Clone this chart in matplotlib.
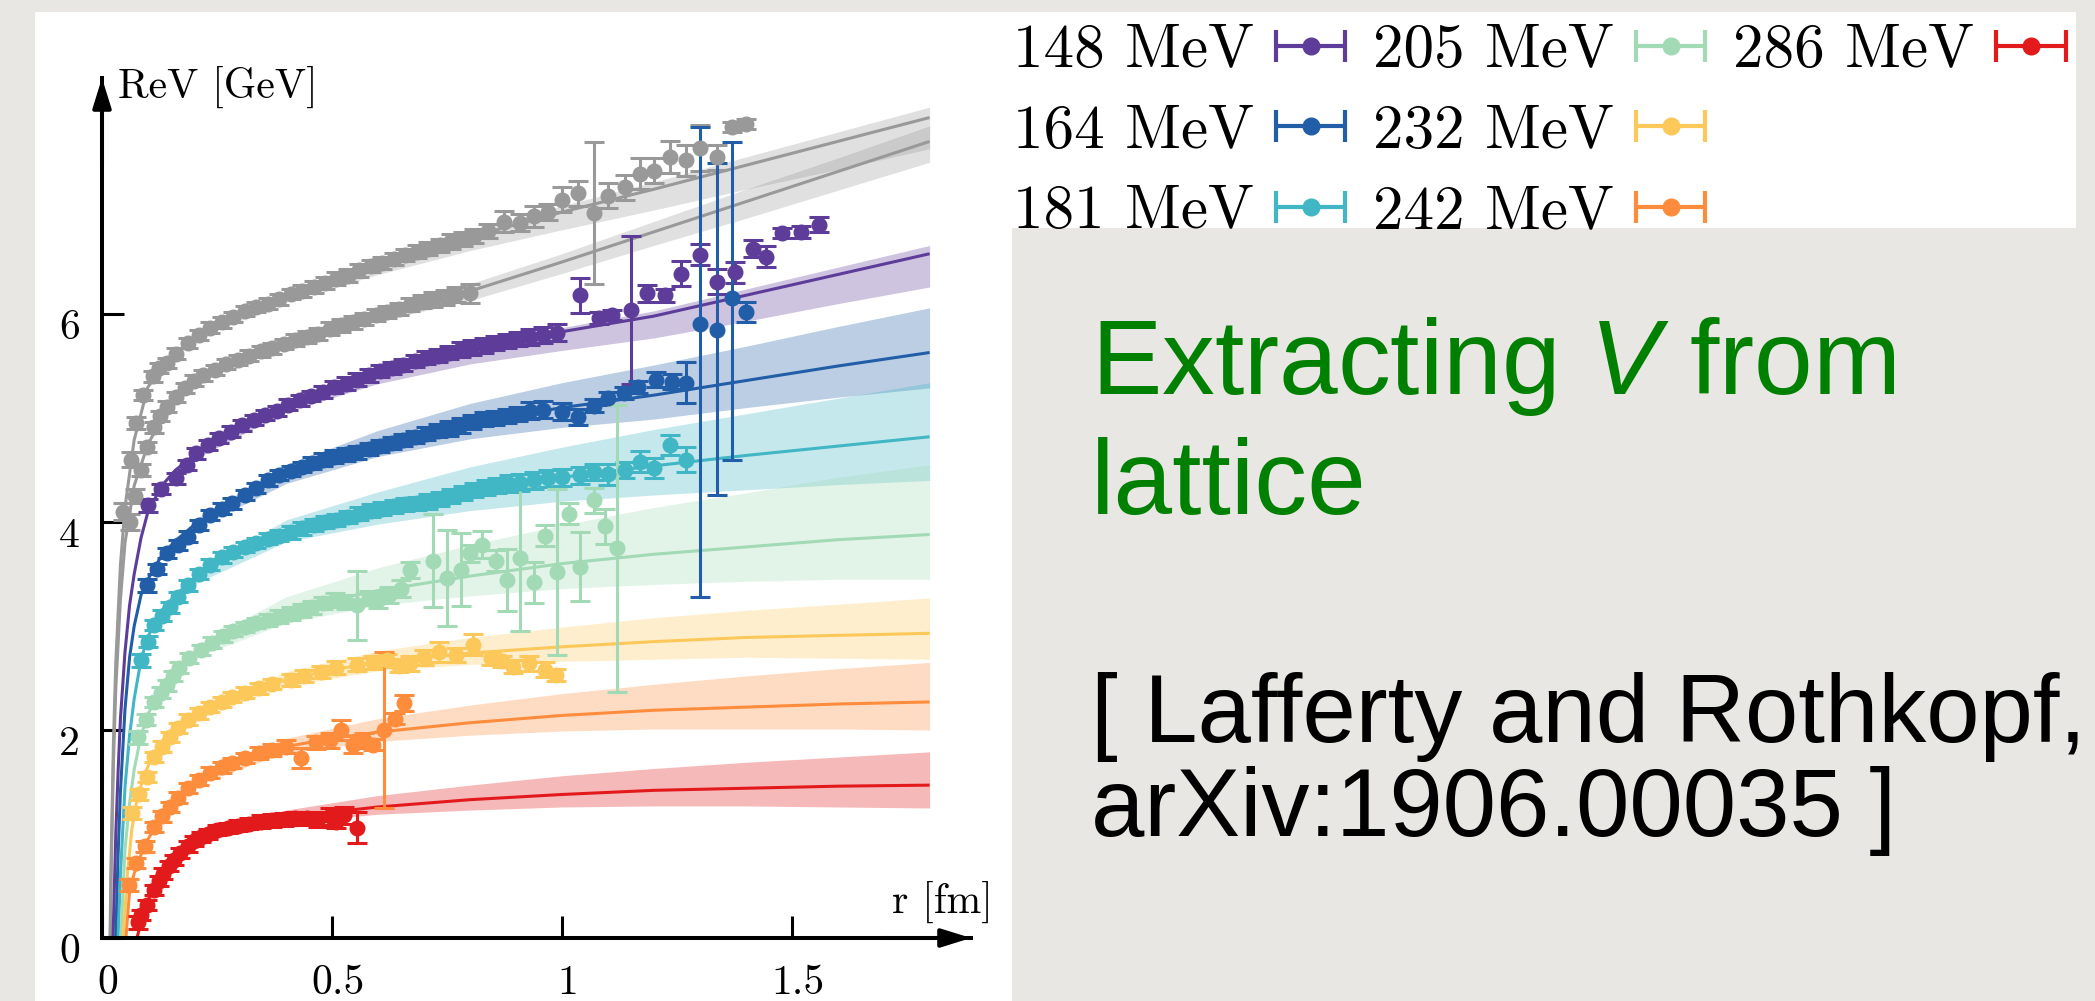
import numpy as np
import matplotlib
matplotlib.use("Agg")
import matplotlib.pyplot as plt
import matplotlib.transforms as mtransforms
from matplotlib.patches import Rectangle
from matplotlib.container import ErrorbarContainer
from matplotlib.legend_handler import HandlerErrorbar
from matplotlib.lines import Line2D
from matplotlib import font_manager as fm

# ---------------------------------------------------------------- data
LABELS = ["148 MeV", "164 MeV", "181 MeV", "205 MeV", "232 MeV", "242 MeV", "286 MeV"]
XTICKS = [0, 0.5, 1, 1.5]
XTICKLABELS = ["0", "0.5", "1", "1.5"]
YTICKS = [0, 2, 4, 6]
YTICKLABELS = ["0", "2", "4", "6"]

BAND_R = [0.2, 0.4, 0.6, 0.8, 1.0, 1.2, 1.4, 1.6, 1.8]

# T = 0 reference data (upper grey)
G1_R = [0.046, 0.062, 0.075, 0.089, 0.11, 0.125, 0.142, 0.16, 0.186, 0.21,
        0.235, 0.26, 0.285, 0.31, 0.335, 0.36, 0.385, 0.41, 0.435, 0.46,
        0.485, 0.51, 0.535, 0.56, 0.585, 0.61, 0.635, 0.66, 0.685, 0.71,
        0.735, 0.76, 0.785, 0.81, 0.84, 0.875, 0.91, 0.94, 0.97, 1.0,
        1.035, 1.07, 1.10, 1.137, 1.17, 1.2, 1.235, 1.27, 1.30, 1.337,
        1.37, 1.40]
G1_V = [4.1, 4.6, 4.95, 5.22, 5.4, 5.48, 5.53, 5.62, 5.72, 5.8,
        5.87, 5.92, 5.97, 6.03, 6.07, 6.1, 6.14, 6.19, 6.22, 6.26,
        6.3, 6.34, 6.37, 6.42, 6.46, 6.49, 6.53, 6.57, 6.6, 6.63,
        6.66, 6.7, 6.72, 6.75, 6.8, 6.89, 6.88, 6.94, 6.98, 7.1,
        7.16, 6.97, 7.14, 7.22, 7.35, 7.38, 7.51, 7.48, 7.6, 7.51,
        7.8, 7.83]
G1_E = [0.08, 0.07, 0.06, 0.05, 0.05, 0.05, 0.05, 0.05, 0.05, 0.05,
        0.05, 0.05, 0.05, 0.05, 0.05, 0.05, 0.05, 0.05, 0.06, 0.06,
        0.06, 0.06, 0.06, 0.06, 0.06, 0.06, 0.06, 0.06, 0.06, 0.06,
        0.06, 0.07, 0.07, 0.07, 0.07, 0.10, 0.08, 0.10, 0.08, 0.12,
        0.12, 0.68, 0.12, 0.12, 0.15, 0.12, 0.15, 0.15, 0.22, 0.12,
        0.05, 0.05]
G1_FIT_R = [0.0175, 0.02, 0.025, 0.03, 0.04, 0.05, 0.07, 0.1, 0.15, 0.2,
            0.3, 0.4, 0.5, 0.6, 0.8, 1.0, 1.2, 1.4, 1.6, 1.8]
G1_FIT_V = [0, 0.8, 1.9, 2.65, 3.58, 4.14, 4.79, 5.3, 5.58, 5.78,
            6.02, 6.19, 6.34, 6.48, 6.74, 6.98, 7.2, 7.43, 7.66, 7.89]
G1_LO = [5.75, 6.12, 6.38, 6.61, 6.81, 7.0, 7.2, 7.39, 7.59]
G1_HI = [5.79, 6.21, 6.51, 6.78, 7.04, 7.27, 7.51, 7.75, 7.99]

# T = 0 reference data (lower grey)
G2_R = [0.06, 0.072, 0.084, 0.098, 0.113, 0.127, 0.142, 0.16, 0.18, 0.2,
        0.22, 0.245, 0.27, 0.295, 0.32, 0.345, 0.37, 0.395, 0.42, 0.445,
        0.47, 0.495, 0.52, 0.545, 0.57, 0.595, 0.62, 0.645, 0.67, 0.695,
        0.72, 0.745, 0.77, 0.80]
G2_V = [4.0, 4.25, 4.5, 4.72, 4.91, 5.02, 5.11, 5.2, 5.29, 5.36,
        5.41, 5.46, 5.52, 5.56, 5.6, 5.64, 5.67, 5.71, 5.75, 5.78,
        5.81, 5.86, 5.89, 5.92, 5.95, 5.99, 6.02, 6.05, 6.09, 6.12,
        6.14, 6.16, 6.19, 6.2]
G2_E = [0.08, 0.07, 0.06, 0.05, 0.05, 0.05, 0.05, 0.05, 0.05, 0.05,
        0.05, 0.05, 0.05, 0.05, 0.05, 0.05, 0.05, 0.05, 0.06, 0.06,
        0.06, 0.06, 0.06, 0.06, 0.06, 0.06, 0.06, 0.06, 0.06, 0.06,
        0.07, 0.07, 0.07, 0.09]
G2_FIT_R = [0.018, 0.02, 0.025, 0.03, 0.04, 0.05, 0.07, 0.1, 0.15, 0.2,
            0.3, 0.4, 0.5, 0.6, 0.8, 1.0, 1.2, 1.4, 1.6, 1.8]
G2_FIT_V = [0, 0.65, 1.7, 2.4, 3.25, 3.8, 4.35, 4.75, 5.15, 5.35,
            5.6, 5.75, 5.88, 6.0, 6.22, 6.5, 6.79, 7.08, 7.37, 7.66]
G2_LO = [5.33, 5.71, 5.93, 6.13, 6.39, 6.66, 6.92, 7.19, 7.46]
G2_HI = [5.37, 5.78, 6.05, 6.29, 6.58, 6.89, 7.2, 7.5, 7.81]

# 148 MeV
PU_R = [0.1, 0.128, 0.16, 0.185, 0.205, 0.23, 0.255, 0.28, 0.305, 0.33,
        0.355, 0.38, 0.405, 0.43, 0.455, 0.48, 0.505, 0.53, 0.555, 0.58,
        0.605, 0.63, 0.655, 0.68, 0.705, 0.73, 0.755, 0.78, 0.805, 0.83,
        0.855, 0.88, 0.905, 0.93, 0.96, 0.99, 1.04, 1.08, 1.11, 1.15,
        1.185, 1.225, 1.26, 1.30, 1.337, 1.376, 1.415, 1.445, 1.48, 1.52,
        1.56]
PU_V = [4.16, 4.32, 4.42, 4.55, 4.66, 4.74, 4.81, 4.87, 4.93, 4.98,
        5.03, 5.07, 5.13, 5.17, 5.21, 5.25, 5.3, 5.33, 5.37, 5.41,
        5.45, 5.48, 5.51, 5.55, 5.58, 5.6, 5.63, 5.66, 5.68, 5.7,
        5.72, 5.74, 5.76, 5.78, 5.8, 5.82, 6.18, 5.96, 5.99, 6.04,
        6.2, 6.18, 6.39, 6.57, 6.31, 6.4, 6.63, 6.55, 6.78, 6.79,
        6.86]
PU_E = [0.06, 0.05, 0.05, 0.05, 0.05, 0.05, 0.05, 0.05, 0.05, 0.05,
        0.05, 0.05, 0.05, 0.05, 0.05, 0.06, 0.06, 0.06, 0.06, 0.06,
        0.06, 0.06, 0.06, 0.06, 0.06, 0.06, 0.06, 0.07, 0.07, 0.07,
        0.07, 0.07, 0.07, 0.08, 0.08, 0.08, 0.17, 0.06, 0.05, 0.71,
        0.08, 0.06, 0.12, 0.10, 0.12, 0.10, 0.08, 0.10, 0.05, 0.06,
        0.07]
PU_FIT_R = [0.024, 0.03, 0.035, 0.04, 0.05, 0.06, 0.07, 0.085, 0.1, 0.13, 0.16,
            0.2, 0.3, 0.4, 0.5, 0.6, 0.8, 1.0, 1.2, 1.4, 1.6, 1.8]
PU_FIT_V = [0, 1.0, 1.6, 2.1, 2.75, 3.2, 3.5, 3.85, 4.1, 4.35, 4.5,
            4.64, 4.93, 5.13, 5.3, 5.44, 5.66, 5.83, 5.98, 6.18, 6.38, 6.58]
PU_LO = [4.6, 5.06, 5.33, 5.52, 5.65, 5.77, 5.93, 6.1, 6.26]
PU_HI = [4.65, 5.15, 5.47, 5.70, 5.87, 6.03, 6.24, 6.45, 6.66]

# 164 MeV
BL_R = [0.098, 0.12, 0.142, 0.165, 0.186, 0.21, 0.235, 0.26, 0.283, 0.31,
        0.335, 0.36, 0.385, 0.41, 0.435, 0.457, 0.48, 0.505, 0.53, 0.555,
        0.58, 0.605, 0.63, 0.655, 0.68, 0.705, 0.73, 0.755, 0.78, 0.805,
        0.83, 0.855, 0.88, 0.905, 0.93, 0.96, 1.0, 1.035, 1.07, 1.10,
        1.135, 1.165, 1.205, 1.24, 1.27, 1.30, 1.337, 1.37, 1.40]
BL_V = [3.39, 3.55, 3.70, 3.78, 3.86, 3.97, 4.07, 4.13, 4.18, 4.26,
        4.33, 4.4, 4.45, 4.49, 4.53, 4.57, 4.6, 4.63, 4.65, 4.67,
        4.7, 4.73, 4.76, 4.79, 4.82, 4.85, 4.88, 4.9, 4.93, 4.96,
        4.99, 5.0, 5.02, 5.04, 5.07, 5.08, 5.06, 5.01, 5.12, 5.19,
        5.24, 5.3, 5.37, 5.35, 5.34, 5.9, 5.85, 6.15, 6.02]
BL_E_LO = [0.06, 0.05, 0.05, 0.05, 0.05, 0.05, 0.05, 0.05, 0.05, 0.05,
           0.05, 0.05, 0.05, 0.05, 0.05, 0.06, 0.06, 0.06, 0.06, 0.06,
           0.06, 0.06, 0.06, 0.06, 0.06, 0.06, 0.06, 0.07, 0.07, 0.07,
           0.07, 0.07, 0.07, 0.07, 0.08, 0.08, 0.08, 0.08, 0.06, 0.06,
           0.06, 0.06, 0.07, 0.07, 0.2, 2.62, 1.59, 1.55, 0.1]
BL_E_HI = [0.06, 0.05, 0.05, 0.05, 0.05, 0.05, 0.05, 0.05, 0.05, 0.05,
           0.05, 0.05, 0.05, 0.05, 0.05, 0.06, 0.06, 0.06, 0.06, 0.06,
           0.06, 0.06, 0.06, 0.06, 0.06, 0.06, 0.06, 0.07, 0.07, 0.07,
           0.07, 0.07, 0.07, 0.07, 0.08, 0.08, 0.08, 0.08, 0.06, 0.06,
           0.06, 0.06, 0.07, 0.07, 0.2, 1.9, 1.6, 1.5, 0.1]
BL_FIT_R = [0.03, 0.035, 0.04, 0.05, 0.06, 0.07, 0.085, 0.1, 0.13, 0.16,
            0.2, 0.3, 0.4, 0.5, 0.6, 0.8, 1.0, 1.2, 1.4, 1.6, 1.8]
BL_FIT_V = [0, 0.8, 1.4, 2.2, 2.7, 3.0, 3.3, 3.45, 3.68, 3.82,
            3.97, 4.24, 4.45, 4.6, 4.74, 4.95, 5.1, 5.22, 5.36, 5.5, 5.63]
BL_LO = [3.93, 4.37, 4.63, 4.8, 4.91, 4.99, 5.1, 5.2, 5.29]
BL_HI = [4.02, 4.55, 4.88, 5.14, 5.34, 5.51, 5.69, 5.88, 6.06]

# 181 MeV
TE_R = [0.084, 0.1, 0.113, 0.13, 0.147, 0.165, 0.186, 0.21, 0.235, 0.26,
        0.285, 0.31, 0.335, 0.36, 0.385, 0.41, 0.435, 0.46, 0.485, 0.51,
        0.535, 0.56, 0.585, 0.61, 0.635, 0.66, 0.685, 0.71, 0.735, 0.76,
        0.785, 0.81, 0.835, 0.86, 0.885, 0.91, 0.94, 0.97, 1.0, 1.04,
        1.07, 1.1, 1.137, 1.17, 1.2, 1.235, 1.27]
TE_V = [2.67, 2.85, 3.01, 3.1, 3.18, 3.28, 3.39, 3.5, 3.59, 3.66,
        3.71, 3.76, 3.8, 3.84, 3.87, 3.9, 3.94, 3.97, 4.0, 4.02,
        4.05, 4.08, 4.11, 4.13, 4.15, 4.17, 4.18, 4.2, 4.22, 4.25,
        4.28, 4.31, 4.33, 4.35, 4.37, 4.38, 4.4, 4.42, 4.43, 4.45,
        4.48, 4.46, 4.5, 4.58, 4.52, 4.74, 4.6]
TE_E = [0.06, 0.05, 0.05, 0.05, 0.05, 0.05, 0.05, 0.05, 0.05, 0.05,
        0.05, 0.05, 0.05, 0.05, 0.05, 0.06, 0.06, 0.06, 0.06, 0.06,
        0.06, 0.06, 0.06, 0.06, 0.06, 0.06, 0.06, 0.07, 0.07, 0.07,
        0.07, 0.07, 0.07, 0.07, 0.08, 0.08, 0.08, 0.08, 0.08, 0.08,
        0.08, 0.1, 0.08, 0.1, 0.1, 0.1, 0.12]
TE_FIT_R = [0.035, 0.04, 0.05, 0.06, 0.07, 0.085, 0.1, 0.13, 0.16, 0.2,
            0.3, 0.4, 0.5, 0.6, 0.8, 1.0, 1.2, 1.4, 1.6, 1.8]
TE_FIT_V = [0, 0.6, 1.45, 1.95, 2.3, 2.68, 2.9, 3.15, 3.3, 3.45,
            3.73, 3.9, 4.02, 4.12, 4.3, 4.43, 4.54, 4.64, 4.73, 4.82]
TE_LO = [3.4, 3.81, 3.98, 4.11, 4.2, 4.26, 4.31, 4.36, 4.4]
TE_HI = [3.51, 4.02, 4.29, 4.53, 4.72, 4.89, 5.04, 5.19, 5.34]

# 205 MeV
GR_R = [0.079, 0.095, 0.113, 0.128, 0.142, 0.155, 0.167, 0.19, 0.215, 0.24,
        0.263, 0.285, 0.31, 0.335, 0.36, 0.385, 0.41, 0.435, 0.457, 0.48,
        0.506, 0.53, 0.555, 0.58, 0.60, 0.625, 0.65, 0.67, 0.72, 0.75,
        0.78, 0.80, 0.826, 0.856, 0.88, 0.91, 0.94, 0.963, 0.99, 1.016,
        1.04, 1.07, 1.093, 1.12]
GR_V = [1.93, 2.1, 2.27, 2.36, 2.43, 2.52, 2.6, 2.69, 2.77, 2.84,
        2.9, 2.95, 2.99, 3.03, 3.06, 3.09, 3.12, 3.15, 3.18, 3.22,
        3.25, 3.23, 3.2, 3.27, 3.25, 3.3, 3.36, 3.54, 3.63, 3.46,
        3.54, 3.7, 3.78, 3.63, 3.44, 3.65, 3.42, 3.87, 3.52, 4.08,
        3.57, 4.21, 3.96, 3.75]
GR_E = [0.06, 0.05, 0.05, 0.05, 0.05, 0.05, 0.05, 0.05, 0.05, 0.05,
        0.05, 0.05, 0.05, 0.05, 0.06, 0.06, 0.06, 0.06, 0.06, 0.06,
        0.07, 0.07, 0.33, 0.07, 0.08, 0.08, 0.08, 0.08, 0.45, 0.46,
        0.35, 0.08, 0.13, 0.1, 0.3, 0.7, 0.2, 0.1, 0.8, 0.1,
        0.33, 0.12, 0.17, 1.38]
GR_FIT_R = [0.041, 0.05, 0.06, 0.07, 0.085, 0.1, 0.13, 0.16, 0.2, 0.3,
            0.4, 0.5, 0.6, 0.8, 1.0, 1.2, 1.4, 1.6, 1.8]
GR_FIT_V = [0, 0.85, 1.3, 1.62, 1.95, 2.15, 2.42, 2.58, 2.74, 2.98,
            3.13, 3.25, 3.34, 3.48, 3.6, 3.69, 3.76, 3.83, 3.88]
GR_LO = [2.69, 3.03, 3.2, 3.29, 3.36, 3.4, 3.43, 3.45, 3.45]
GR_HI = [2.81, 3.28, 3.56, 3.78, 3.97, 4.14, 4.28, 4.43, 4.55]

# 232 MeV
YE_R = [0.065, 0.08, 0.098, 0.113, 0.13, 0.147, 0.165, 0.186, 0.21, 0.235,
        0.26, 0.283, 0.31, 0.341, 0.37, 0.41, 0.44, 0.477, 0.51, 0.555,
        0.59, 0.62, 0.645, 0.67, 0.70, 0.734, 0.77, 0.806, 0.846, 0.87,
        0.894, 0.928, 0.963, 0.987]
YE_V = [1.2, 1.38, 1.55, 1.74, 1.84, 1.93, 2.02, 2.1, 2.16, 2.22,
        2.27, 2.32, 2.36, 2.4, 2.44, 2.48, 2.52, 2.56, 2.6, 2.63,
        2.65, 2.67, 2.62, 2.64, 2.7, 2.75, 2.72, 2.82, 2.69, 2.66,
        2.61, 2.64, 2.58, 2.53]
YE_E = [0.06, 0.05, 0.05, 0.05, 0.05, 0.05, 0.05, 0.05, 0.05, 0.05,
        0.05, 0.05, 0.05, 0.05, 0.05, 0.06, 0.06, 0.06, 0.06, 0.06,
        0.06, 0.06, 0.06, 0.07, 0.07, 0.1, 0.07, 0.1, 0.06, 0.05,
        0.06, 0.07, 0.07, 0.06]
YE_FIT_R = [0.046, 0.055, 0.065, 0.075, 0.09, 0.11, 0.14, 0.18, 0.24, 0.3,
            0.4, 0.5, 0.6, 0.8, 1.0, 1.2, 1.4, 1.6, 1.8]
YE_FIT_V = [0, 0.6, 1.05, 1.3, 1.55, 1.75, 1.95, 2.1, 2.25, 2.35,
            2.48, 2.58, 2.65, 2.74, 2.8, 2.85, 2.89, 2.91, 2.93]
YE_LO = [2.12, 2.42, 2.57, 2.63, 2.66, 2.68, 2.7, 2.69, 2.68]
YE_HI = [2.19, 2.56, 2.76, 2.89, 2.99, 3.08, 3.15, 3.21, 3.27]

# 242 MeV
OR_R = [0.059, 0.075, 0.094, 0.113, 0.13, 0.147, 0.165, 0.186, 0.21, 0.235,
        0.26, 0.283, 0.31, 0.341, 0.37, 0.40, 0.433, 0.465, 0.496, 0.52,
        0.545, 0.57, 0.589, 0.613, 0.637, 0.656]
OR_V = [0.51, 0.72, 0.88, 1.07, 1.17, 1.26, 1.35, 1.44, 1.52, 1.59,
        1.64, 1.68, 1.73, 1.78, 1.81, 1.84, 1.73, 1.88, 1.9, 2.0,
        1.86, 1.9, 1.86, 2.0, 2.11, 2.26]
OR_E = [0.06, 0.05, 0.05, 0.05, 0.05, 0.05, 0.05, 0.05, 0.05, 0.05,
        0.05, 0.05, 0.05, 0.06, 0.06, 0.06, 0.1, 0.06, 0.07, 0.1,
        0.08, 0.07, 0.05, 0.75, 0.05, 0.08]
OR_FIT_R = [0.052, 0.06, 0.07, 0.085, 0.1, 0.13, 0.16, 0.2, 0.3, 0.4,
            0.5, 0.6, 0.8, 1.0, 1.2, 1.4, 1.6, 1.8]
OR_FIT_V = [0, 0.45, 0.62, 0.8, 0.95, 1.17, 1.33, 1.5, 1.72, 1.84,
            1.92, 1.98, 2.07, 2.14, 2.19, 2.22, 2.25, 2.27]
OR_LO = [1.47, 1.78, 1.89, 1.95, 1.99, 2.01, 2.01, 2.01, 2.0]
OR_HI = [1.54, 1.92, 2.11, 2.24, 2.35, 2.44, 2.52, 2.59, 2.65]

# 286 MeV
RE_R = [0.078, 0.085, 0.098, 0.113, 0.123, 0.133, 0.145, 0.157, 0.17, 0.186,
        0.2, 0.215, 0.23, 0.25, 0.273, 0.295, 0.32, 0.345, 0.37, 0.395,
        0.42, 0.445, 0.47, 0.496, 0.51, 0.526, 0.555]
RE_V = [0.15, 0.22, 0.32, 0.46, 0.55, 0.62, 0.69, 0.75, 0.82, 0.88,
        0.93, 0.97, 1.0, 1.04, 1.06, 1.08, 1.1, 1.12, 1.13, 1.14,
        1.15, 1.15, 1.14, 1.17, 1.12, 1.18, 1.06]
RE_E = [0.06, 0.05, 0.05, 0.05, 0.05, 0.05, 0.05, 0.05, 0.05, 0.05,
        0.05, 0.05, 0.05, 0.05, 0.05, 0.05, 0.05, 0.06, 0.06, 0.06,
        0.06, 0.06, 0.07, 0.08, 0.06, 0.08, 0.15]
RE_FIT_R = [0.076, 0.085, 0.1, 0.12, 0.15, 0.2, 0.25, 0.3, 0.4, 0.5,
            0.6, 0.8, 1.0, 1.2, 1.4, 1.6, 1.8]
RE_FIT_V = [0, 0.15, 0.36, 0.55, 0.74, 0.93, 1.03, 1.09, 1.16, 1.21,
            1.26, 1.33, 1.38, 1.42, 1.44, 1.46, 1.47]
RE_LO = [0.91, 1.11, 1.19, 1.23, 1.26, 1.27, 1.27, 1.26, 1.25]
RE_HI = [0.97, 1.23, 1.37, 1.47, 1.56, 1.63, 1.69, 1.74, 1.79]

# ---------------------------------------------------------------- style
GREY = "#999999"
C_PU, C_BL, C_TE = "#5e3c99", "#225ea8", "#41b6c4"
C_GR, C_YE, C_OR, C_RE = "#a1dab4", "#fdc85a", "#fd8d3c", "#e31a1c"
LEGEND_COLORS = [C_PU, C_BL, C_TE, C_GR, C_YE, C_OR, C_RE]


def pick_font(*names):
    for n in names:
        try:
            fm.findfont(fm.FontProperties(family=n), fallback_to_default=False)
            return n
        except Exception:
            pass
    return "DejaVu Sans"


SANS = pick_font("Liberation Sans", "Arial", "DejaVu Sans")
SERIF = pick_font("cmr10", "DejaVu Serif")
plt.rcParams["mathtext.fontset"] = "custom"
plt.rcParams["mathtext.rm"] = SANS
plt.rcParams["mathtext.it"] = SANS + ":italic"
plt.rcParams["axes.unicode_minus"] = False

W, H = 2095, 1001
fig = plt.figure(figsize=(W / 100, H / 100), dpi=100, facecolor="#e9e7e3")

# white panels behind the plot and the legend
fig.add_artist(Rectangle((35 / W, 0), (1012 - 35) / W, (H - 12) / H,
                         transform=fig.transFigure, facecolor="white",
                         edgecolor="none", zorder=-2))
fig.add_artist(Rectangle((1007 / W, 1 - 228 / H), (2076 - 1007) / W, (228 - 12) / H,
                         transform=fig.transFigure, facecolor="white",
                         edgecolor="none", zorder=-2))

ax = fig.add_axes([102 / W, 63 / H, 869 / W, 860 / H])
ax.patch.set_alpha(0)

series = [
    (G1_R, G1_V, (G1_E, G1_E), G1_FIT_R, G1_FIT_V, G1_LO, G1_HI, GREY),
    (G2_R, G2_V, (G2_E, G2_E), G2_FIT_R, G2_FIT_V, G2_LO, G2_HI, GREY),
    (PU_R, PU_V, (PU_E, PU_E), PU_FIT_R, PU_FIT_V, PU_LO, PU_HI, C_PU),
    (BL_R, BL_V, (BL_E_LO, BL_E_HI), BL_FIT_R, BL_FIT_V, BL_LO, BL_HI, C_BL),
    (TE_R, TE_V, (TE_E, TE_E), TE_FIT_R, TE_FIT_V, TE_LO, TE_HI, C_TE),
    (GR_R, GR_V, (GR_E, GR_E), GR_FIT_R, GR_FIT_V, GR_LO, GR_HI, C_GR),
    (YE_R, YE_V, (YE_E, YE_E), YE_FIT_R, YE_FIT_V, YE_LO, YE_HI, C_YE),
    (OR_R, OR_V, (OR_E, OR_E), OR_FIT_R, OR_FIT_V, OR_LO, OR_HI, C_OR),
    (RE_R, RE_V, (RE_E, RE_E), RE_FIT_R, RE_FIT_V, RE_LO, RE_HI, C_RE),
]

# uncertainty bands of the fits
for r, v, err, fr, fv, lo, hi, c in series:
    ax.fill_between(BAND_R, lo, hi, color=c, alpha=0.3, lw=0, zorder=1)
# fitted potentials
for r, v, err, fr, fv, lo, hi, c in series:
    ax.plot(fr, fv, color=c, lw=2.2, zorder=2, solid_capstyle="butt")
# lattice data
for r, v, err, fr, fv, lo, hi, c in series:
    ax.errorbar(r, v, yerr=[err[0], err[1]], fmt="o", color=c, ms=10.5,
                elinewidth=2.2, capsize=7.5, capthick=2.2, zorder=3)

# axes as arrows
for side in ("top", "right"):
    ax.spines[side].set_visible(False)
for side in ("left", "bottom"):
    ax.spines[side].set_linewidth(2.9)
arrow = dict(arrowstyle="-|>,head_length=0.9,head_width=0.28", mutation_scale=20,
             lw=2.9, color="black", shrinkA=0, shrinkB=0)
ax.annotate("", xy=(1, 0), xycoords="axes fraction", xytext=(0.9, 0),
            textcoords="axes fraction", arrowprops=arrow, annotation_clip=False)
ax.annotate("", xy=(0, 1), xycoords="axes fraction", xytext=(0, 0.9),
            textcoords="axes fraction", arrowprops=arrow, annotation_clip=False)

ax.set_xticks(XTICKS)
ax.set_xticklabels(XTICKLABELS, fontfamily=SERIF, fontsize=30)
ax.set_yticks(YTICKS)
ax.set_yticklabels(YTICKLABELS, fontfamily=SERIF, fontsize=30)
ax.tick_params(axis="both", direction="in", length=15.5, width=2.2,
               top=False, right=False)
ax.tick_params(axis="y", pad=16)
ax.tick_params(axis="x", pad=19)
ydown = mtransforms.ScaledTranslation(0, -0.10, fig.dpi_scale_trans)
for lab in ax.get_yticklabels():
    lab.set_transform(lab.get_transform() + ydown)
xright = mtransforms.ScaledTranslation(0.06, 0, fig.dpi_scale_trans)
for lab in ax.get_xticklabels():
    lab.set_transform(lab.get_transform() + xright)

fig.text(118 / W, 1 - 98 / H, "ReV [GeV]", fontfamily=SERIF, fontsize=30,
         va="baseline", ha="left")
fig.text(892 / W, 1 - 913 / H, "r [fm]", fontfamily=SERIF, fontsize=30,
         va="baseline", ha="left")

# legend of temperatures, drawn with horizontal error-bar glyphs
handles = []
for c in LEGEND_COLORS:
    h = ax.errorbar([np.nan], [np.nan], xerr=[0.1], fmt="o", color=c, ms=12,
                    elinewidth=3, capsize=11.5, capthick=3)
    handles.append(h)
handles.append(Line2D([], [], linestyle="none", marker="none"))
labels = LABELS + [""]
ax.set_xlim(0, 1.89)
ax.set_ylim(0, 8.27)
fig.legend(handles, labels, ncol=3, markerfirst=False, frameon=False,
           loc="upper left", bbox_to_anchor=(1013 / W, 1 - 24 / H),
           borderpad=0, borderaxespad=0,
           prop=fm.FontProperties(family=SERIF, size=44),
           handlelength=1.15, handletextpad=0.35, columnspacing=0.45,
           labelspacing=0.41,
           handler_map={ErrorbarContainer: HandlerErrorbar(xerr_size=0.57)})

# slide text
fig.text(1091 / W, 1 - 394 / H, "Extracting $V$ from", color="#008000",
         fontsize=76, fontfamily=SANS, va="baseline", ha="left")
fig.text(1091 / W, 1 - 514 / H, "lattice", color="#008000",
         fontsize=76, fontfamily=SANS, va="baseline", ha="left")
fig.text(1091 / W, 1 - 742 / H, "[ Lafferty and Rothkopf,", color="black",
         fontsize=69, fontfamily=SANS, va="baseline", ha="left")
fig.text(1091 / W, 1 - 836 / H, "arXiv:1906.00035 ]", color="black",
         fontsize=69, fontfamily=SANS, va="baseline", ha="left")

fig.savefig("out.png", dpi=100, facecolor=fig.get_facecolor())
